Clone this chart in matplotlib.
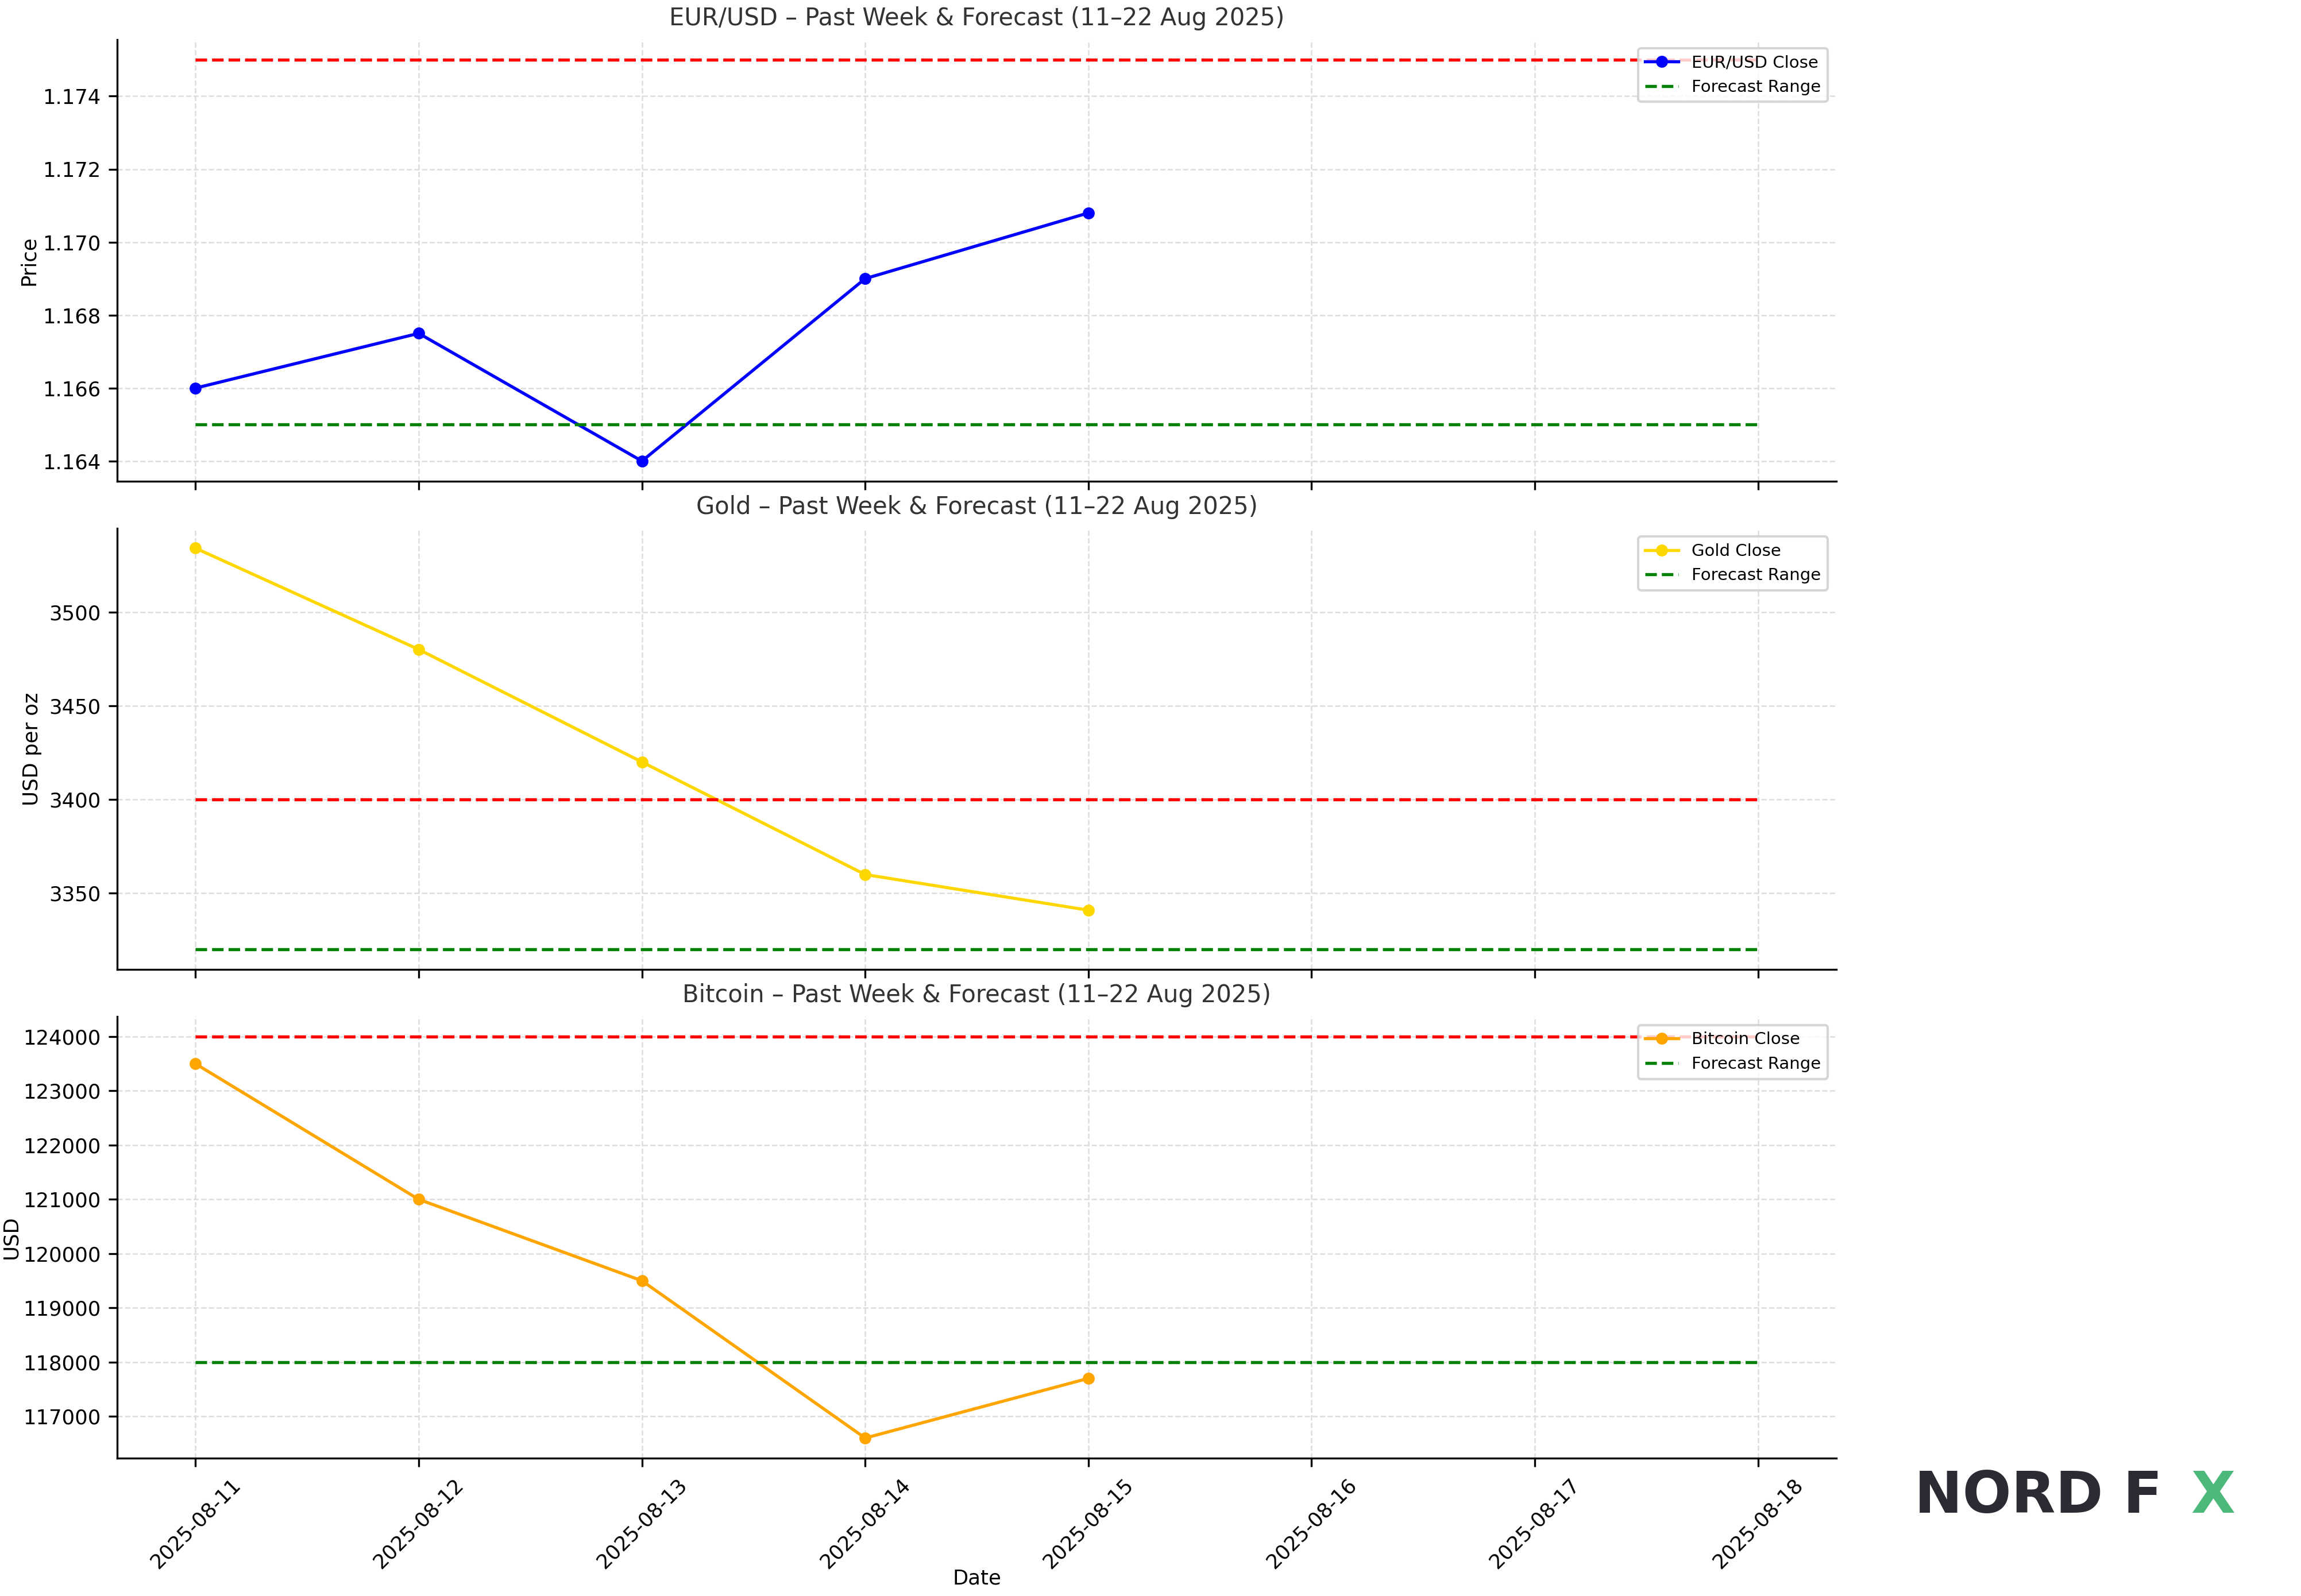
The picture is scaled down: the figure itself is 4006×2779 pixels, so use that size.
import matplotlib
matplotlib.use("Agg")
import matplotlib.pyplot as plt
import matplotlib.dates as mdates
from matplotlib.ticker import ScalarFormatter
import pandas as pd

dates = pd.to_datetime(["2025-08-11", "2025-08-12", "2025-08-13", "2025-08-14", "2025-08-15"])
forecast_span = pd.to_datetime(["2025-08-11", "2025-08-18"])

eurusd = [1.1660, 1.1675, 1.1640, 1.1690, 1.1708]
gold = [3534, 3480, 3420, 3360, 3341]
bitcoin = [123500, 121000, 119500, 116600, 117700]

eur_range = (1.165, 1.175)
gold_range = (3320, 3400)
btc_range = (118000, 124000)

panels = [
    ("EUR/USD – Past Week & Forecast (11–22 Aug 2025)", eurusd, eur_range, "blue", "EUR/USD Close", "Price"),
    ("Gold – Past Week & Forecast (11–22 Aug 2025)", gold, gold_range, "gold", "Gold Close", "USD per oz"),
    ("Bitcoin – Past Week & Forecast (11–22 Aug 2025)", bitcoin, btc_range, "orange", "Bitcoin Close", "USD"),
]
label_x = [-0.046, -0.044, -0.056]

fig = plt.figure(figsize=(4006 / 300, 2779 / 300), dpi=300)
tops = [27, 360, 693]
axes = []
for i, (title, vals, rng, color, label, ylab) in enumerate(panels):
    top = 1 - tops[i] / 1088
    h = 301 / 1088
    ax = fig.add_axes([0.051, top - h, 0.747, h], sharex=axes[0] if axes else None)
    axes.append(ax)
    ax.plot(dates, vals, marker="o", markersize=4, color=color, lw=1.3, label=label)
    ax.plot(forecast_span, [rng[1]] * 2, "--", color="red", lw=1.3)
    ax.plot(forecast_span, [rng[0]] * 2, "--", color="green", lw=1.3, label="Forecast Range")
    ax.set_title(title, fontsize=10, color="#333333")
    ax.set_ylabel(ylab, fontsize=8.5)
    ax.yaxis.set_label_coords(label_x[i], 0.5)
    ax.grid(True, linestyle="--", color="#dddddd", lw=0.6)
    ax.spines["top"].set_visible(False)
    ax.spines["right"].set_visible(False)
    ax.tick_params(labelsize=8.5)
    fmt = ScalarFormatter(useOffset=False)
    fmt.set_scientific(False)
    ax.yaxis.set_major_formatter(fmt)
    ax.legend(loc="upper right", fontsize=7)
    if i < 2:
        ax.tick_params(labelbottom=False)

axes[-1].xaxis.set_major_locator(mdates.DayLocator())
axes[-1].xaxis.set_major_formatter(mdates.DateFormatter("%Y-%m-%d"))
plt.setp(axes[-1].get_xticklabels(), rotation=45)
axes[-1].set_xlabel("Date", fontsize=8.5)
axes[-1].xaxis.set_label_coords(0.5, -0.25)

fig.text(0.832, 0.052, "NORD F", fontsize=24, fontweight="heavy", color="#2b2b33", family="DejaVu Sans")
fig.text(0.952, 0.052, "X", fontsize=24, fontweight="heavy", color="#4cb87a", family="DejaVu Sans")

fig.savefig("out.png", dpi=300)
